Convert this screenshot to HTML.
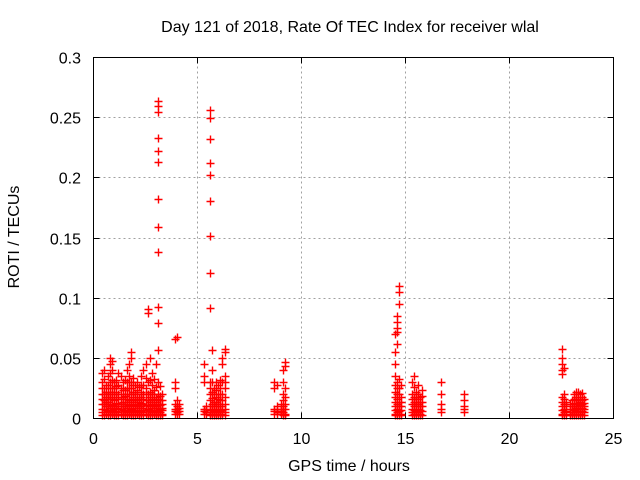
<!DOCTYPE html>
<html><head><meta charset="utf-8"><style>
html,body{margin:0;padding:0;background:#fff;}
svg{display:block;font-family:"Liberation Sans",sans-serif;}
</style></head><body>
<svg id="chart" width="640" height="480" viewBox="0 0 640 480">
<rect width="640" height="480" fill="#fff"/>
<text x="350" y="32" font-size="16" text-anchor="middle">Day 121 of 2018, Rate Of TEC Index for receiver wlal</text>
<text x="349" y="471" font-size="16" text-anchor="middle">GPS time / hours</text>
<text x="19" y="237" font-size="16" text-anchor="middle" transform="rotate(-90 19 237)">ROTI / TECUs</text>
<g id="grid"></g>
<g id="ticks"></g>
<g id="marks"></g>
<rect x="93.5" y="57.5" width="520" height="361" fill="none" stroke="#000" stroke-width="1"/>
</svg>
<script>
const xTicks = [0, 5, 10, 15, 20, 25];
const yTicks = [0, 0.05, 0.1, 0.15, 0.2, 0.25, 0.3];
const yTickLabels = ["0", "0.05", "0.1", "0.15", "0.2", "0.25", "0.3"];
const groupHours = [0.4,0.5,0.6,0.7,0.8,0.9,1.0,1.1,1.2,1.3,1.4,1.5,1.6,1.7,1.8,1.9,2.0,2.1,2.2,2.3,2.4,2.5,2.6,2.7,2.8,2.9,3.0,3.1,3.2,3.3,3.9,4.0,4.1,5.3,5.4,5.6,5.7,5.8,5.9,6.0,6.1,6.2,6.3,8.7,8.8,9.0,9.1,9.2,14.5,14.6,14.7,14.8,15.3,15.4,15.5,15.6,15.7,15.8,16.7,17.8,22.5,22.6,22.7,22.9,23.0,23.1,23.2,23.3,23.4,23.5,23.6];
const groupValues = [
[.003,.005,.008,.012,.016,.02,.025,.03,.038],[.003,.008,.012,.015,.02,.025,.033,.04],[.004,.007,.01,.014,.018,.022,.028],[.003,.006,.01,.014,.018,.022,.028,.035],
[.003,.005,.009,.012,.016,.02,.025,.03,.038,.045,.05],[.004,.007,.011,.016,.02,.025,.032,.04,.048],[.003,.004,.008,.01,.015,.02,.025,.03],[.003,.006,.01,.013,.018,.022,.027,.032],
[.003,.005,.009,.012,.016,.02,.028,.038],[.004,.008,.012,.016,.02,.025,.035],[.003,.004,.007,.01,.014,.018,.024,.03],[.003,.006,.01,.014,.019,.024,.032],
[.003,.005,.009,.012,.016,.02,.025,.03,.04],[.004,.007,.011,.015,.02,.025,.03,.035,.045],[.003,.004,.008,.011,.015,.02,.025,.03,.05,.055],[.003,.006,.01,.014,.018,.022,.028,.034],
[.003,.005,.009,.012,.016,.02,.028],[.004,.007,.011,.015,.02,.024,.03],[.003,.004,.007,.01,.014,.018,.026],[.003,.006,.01,.013,.018,.022,.028,.035],
[.003,.005,.009,.012,.016,.02,.028,.04],[.004,.007,.011,.015,.02,.025,.034,.045],[.003,.004,.008,.011,.015,.02,.03,.088,.091],[.003,.006,.01,.014,.018,.022,.032,.05],
[.003,.005,.009,.012,.016,.02,.028,.038],[.004,.007,.011,.015,.02,.024,.033],[.003,.004,.007,.01,.014,.018,.026,.045],[.003,.006,.009,.012,.016,.02,.03,.057,.079,.093,.138,.159,.182,.213,.222,.233,.255,.26,.264],
[.003,.005,.008,.011,.015,.019,.027],[.003,.004,.007,.009,.012,.015,.02],[.004,.006,.008,.012,.025,.03,.066],[.004,.005,.008,.01,.015,.068],[.004,.006,.009,.012],
[.004,.006,.008,.03,.035,.045],[.004,.005,.008,.01],[.003,.004,.007,.01,.015,.02,.025,.03,.092,.121,.152,.181,.202,.212,.232,.25,.256],[.003,.005,.008,.012,.017,.022,.03,.04,.057],
[.003,.006,.01,.014,.02,.025],[.003,.004,.007,.01,.014,.018,.024,.03],[.003,.005,.008,.012,.016,.02,.028],[.003,.006,.01,.015,.02,.025,.032],[.003,.004,.007,.01,.015,.02,.03,.045,.05],
[.003,.005,.008,.012,.018,.025,.03,.035,.055,.058],[.004,.006,.008,.025,.03],[.004,.005,.008,.01,.028],[.004,.006,.008,.012],[.003,.005,.008,.01,.015,.02,.03,.04],[.003,.004,.008,.012,.018,.025,.044,.047],
[.003,.004,.007,.01,.014,.018,.022,.028,.035,.045,.055,.07],[.003,.005,.008,.012,.016,.02,.025,.03,.062,.072,.075,.08,.085],[.003,.006,.01,.014,.02,.025,.033,.095,.105,.11],[.003,.004,.007,.01,.014,.018,.028],
[.003,.005,.008,.012,.016,.02,.03],[.003,.004,.007,.01,.014,.018,.026,.035],[.003,.006,.01,.014,.018,.022],[.003,.005,.008,.012,.016,.02,.028],[.003,.004,.007,.01,.014,.018],[.003,.006,.01,.014,.019,.024],
[.005,.008,.012,.02,.03],[.005,.008,.01,.015,.02],
[.003,.004,.007,.01,.014,.018,.037,.04,.045,.05,.058],[.003,.005,.008,.012,.016,.02,.042],[.003,.006,.01,.014],[.003,.004,.008,.012],[.003,.005,.008,.01,.015],
[.003,.004,.007,.01,.013,.016,.02],[.003,.006,.009,.012,.015,.018,.022],[.003,.005,.008,.01,.013,.016,.022],[.003,.004,.008,.011,.014,.02],[.003,.006,.009,.012,.015,.018,.021],[.003,.005,.008,.01,.013,.016]
];
const X0=93.5,X1=613.5,Y0=418.5,Y1=57.5;
const xScale = h => X0 + (h/25)*(X1-X0);
const yScale = v => Y0 - (v/0.3)*(Y0-Y1);
const NS="http://www.w3.org/2000/svg";
function mk(tag, attrs, parent){const e=document.createElementNS(NS,tag);for(const k in attrs)e.setAttribute(k,attrs[k]);parent.appendChild(e);return e;}
const grid=document.getElementById('grid'), ticks=document.getElementById('ticks'), marks=document.getElementById('marks');
xTicks.forEach((t,i)=>{
  const x=Math.round(xScale(t)-0.5)+0.5;
  if(i>0&&i<xTicks.length-1){const g=mk('line',{x1:x,y1:Y0,x2:x,y2:Y1,stroke:'#a0a0a0','stroke-dasharray':'2,3'},grid);
  
  }
  mk('line',{x1:x,y1:Y0,x2:x,y2:Y0-6,stroke:'#000'},ticks);
  mk('line',{x1:x,y1:Y1,x2:x,y2:Y1+6,stroke:'#000'},ticks);
  const l=mk('text',{x:x,y:444,'font-size':16,'text-anchor':'middle'},ticks);l.textContent=String(t);
  
  
});
yTicks.forEach((t,i)=>{
  const y=Math.round(yScale(t)-0.5)+0.5;
  if(i>0&&i<yTicks.length-1){const g=mk('line',{x1:X0,y1:y,x2:X1,y2:y,stroke:'#a0a0a0','stroke-dasharray':'2,3'},grid);
  
  }
  mk('line',{x1:X0,y1:y,x2:X0+6,y2:y,stroke:'#000'},ticks);
  mk('line',{x1:X1,y1:y,x2:X1-6,y2:y,stroke:'#000'},ticks);
  const l=mk('text',{x:81,y:y+6,'font-size':16,'text-anchor':'end'},ticks);l.textContent=yTickLabels[i];
  
  
});
groupHours.forEach((h,gi)=>{
  groupValues[gi].forEach(v=>{
    const x=Math.round(xScale(h))+0.5, y=Math.round(yScale(v))+0.5;
    const p=mk('path',{d:`M${x-4},${y}H${x+4}M${x},${y-4}V${y+4}`,stroke:'#f00','stroke-width':1.4,fill:'none'},marks);
    
    
  });
});
</script>
</body></html>
